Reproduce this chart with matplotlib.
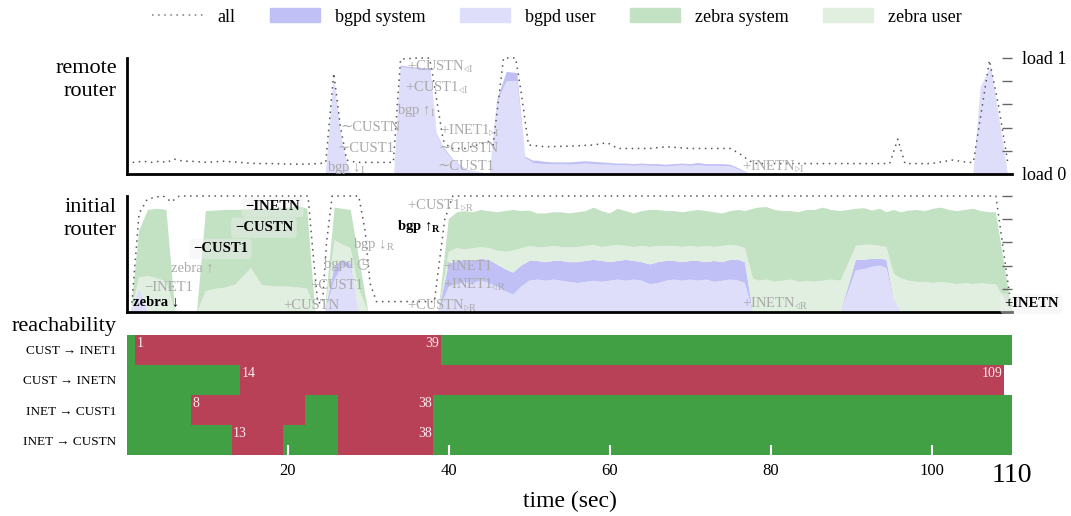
import numpy as np
import matplotlib
matplotlib.use("Agg")
import matplotlib.pyplot as plt
from matplotlib.patches import Patch
from matplotlib.lines import Line2D

plt.rcParams['font.family'] = ['Liberation Serif', 'DejaVu Serif', 'DejaVu Sans']
plt.rcParams['mathtext.fontset'] = 'custom'
plt.rcParams['mathtext.rm'] = 'Liberation Serif'
plt.rcParams['mathtext.bf'] = 'Liberation Serif:bold'
plt.rcParams['mathtext.it'] = 'Liberation Serif:italic'

# ---- remote router: cpu load (fraction of one core) ----
rem_t = [1, 24.7, 25.7, 26.7, 27.7, 33.2, 34.0, 35.5, 37.7, 38.5, 39.3, 40.6, 42.2, 45.1,
         46.0, 47.2, 48.5, 49.5, 50.5, 51, 52, 53, 54, 55, 56, 57, 58, 59, 60, 61, 62, 63,
         64, 65, 66, 67, 68, 69, 70, 71, 72, 73, 74, 75, 76, 77.5, 105.2, 106.1, 107.4,
         109.5, 110]
rem_bgpd_user = [0, 0, 0.80, 0.30, 0, 0, 0.92, 0.91, 0.89, 0.34, 0.22, 0.11, 0.03, 0,
                 0.62, 0.80, 0.80, 0.14, 0.095, 0.09, 0.085, 0.085, 0.085, 0.08, 0.085, 0.09,
                 0.085, 0.08, 0.08, 0.075, 0.075, 0.07, 0.075, 0.07, 0.07, 0.065, 0.07, 0.075,
                 0.07, 0.075, 0.07, 0.07, 0.07, 0.065, 0.04, 0, 0, 0.75, 0.93, 0, 0]
rem_bgpd_sys = [0, 0, 0.02, 0, 0, 0, 0.015, 0.01, 0.02, 0.01, 0.015, 0.01, 0.005, 0,
                0.02, 0.08, 0.07, 0.01, 0.02, 0.025, 0.02, 0.015, 0.015, 0.02, 0.02, 0.02,
                0.02, 0.02, 0.015, 0.015, 0.015, 0.015, 0.015, 0.015, 0.015, 0.015, 0.015,
                0.015, 0.015, 0.02, 0.015, 0.015, 0.015, 0.015, 0.01, 0, 0, 0, 0, 0, 0]
rem_all_t = [0.7, 2, 3, 4, 5, 5.8, 7, 8, 10, 12, 14, 16, 18, 20, 22, 24, 24.7, 25.7, 26.5,
             27.3, 28.5, 30, 32, 33.1, 34.0, 36, 37.6, 38.0, 39.3, 40.2, 42, 43.5, 45, 45.5,
             46.8, 48.3, 49.0, 49.9, 52, 55, 58, 59.7, 61, 65, 67, 70, 75, 76.5, 77.2, 78, 85,
             90, 94.8, 95.8, 96.7, 100, 102.6, 104.5, 105.2, 107.2, 108.3, 109.5]
rem_all = [0.10, 0.11, 0.10, 0.11, 0.10, 0.13, 0.11, 0.11, 0.10, 0.11, 0.10, 0.09, 0.09,
           0.085, 0.085, 0.09, 0.10, 0.87, 0.42, 0.12, 0.10, 0.10, 0.10, 0.10, 0.99, 1.0,
           1.0, 0.85, 0.29, 0.22, 0.22, 0.25, 0.28, 0.25, 1.0, 1.0, 0.70, 0.25, 0.235,
           0.24, 0.25, 0.27, 0.22, 0.22, 0.235, 0.22, 0.22, 0.16, 0.12, 0.09, 0.09, 0.09,
           0.09, 0.30, 0.09, 0.09, 0.12, 0.10, 0.10, 0.98, 0.60, 0.09]

# ---- initial router: cumulative tops of the stacked layers ----
ini_t = [0.5, 1.5, 2.6, 3.8, 4.9, 6.0, 8.7, 9.8, 11, 12.2, 13.5, 15.4, 16.8, 18.5, 20,
         21.5, 22.4, 23.4, 24.6, 25.8, 26.8, 27.8, 28.8, 30, 38.7, 40.0,
         41, 42, 43, 44, 45, 46, 47, 48, 49, 50, 51, 52, 53, 54, 55, 56, 57, 58, 59, 60,
         61, 62, 63, 64, 65, 66, 67, 68, 69, 70, 71, 72, 73, 74, 75, 76, 76.8, 77.8, 78.5,
         79.5, 80.5, 81.5, 82.5, 83.5, 84.5, 85.5, 86.5, 87.5, 88.7, 90.6, 91.6, 92.6, 93.6,
         94.4, 95.3, 96.2, 97.2, 98.2, 99.2, 100.2, 101.2, 102.2, 103.2, 104.2, 105.2,
         106.2, 107.2, 108.0, 110]
ini_top_bgpd_user = [0, 0.19, 0, 0, 0, 0, 0, 0, 0, 0, 0, 0, 0, 0, 0, 0, 0, 0, 0, 0.28, 0.40,
                     0.38, 0, 0, 0, 0.22,
                     0.24, 0.26, 0.25, 0.27, 0.25, 0.22, 0.18, 0.15, 0.22, 0.27, 0.28, 0.27,
                     0.28, 0.27, 0.26, 0.25, 0.26, 0.27, 0.26, 0.27, 0.28, 0.27, 0.28, 0.27,
                     0.24, 0.25, 0.27, 0.28, 0.27, 0.28, 0.27, 0.28, 0.26, 0.27, 0.28, 0.27,
                     0.25, 0, 0, 0, 0, 0, 0, 0, 0, 0, 0, 0, 0, 0.36, 0.37, 0.39, 0.40, 0.38,
                     0.10, 0, 0, 0, 0, 0, 0, 0, 0, 0, 0, 0, 0, 0, 0]
ini_top_bgpd_sys = [0, 0.20, 0, 0, 0, 0, 0, 0, 0, 0, 0, 0, 0, 0, 0, 0, 0, 0, 0, 0.40, 0.45,
                    0.42, 0, 0, 0, 0.42,
                    0.44, 0.45, 0.44, 0.46, 0.45, 0.41, 0.37, 0.34, 0.40, 0.44, 0.44, 0.43,
                    0.44, 0.44, 0.43, 0.43, 0.44, 0.45, 0.44, 0.43, 0.44, 0.45, 0.44, 0.43,
                    0.41, 0.43, 0.44, 0.44, 0.43, 0.44, 0.44, 0.43, 0.44, 0.43, 0.45, 0.45,
                    0.43, 0, 0, 0, 0, 0, 0, 0, 0, 0, 0, 0, 0, 0.45, 0.45, 0.46, 0.46, 0.45,
                    0.11, 0, 0, 0, 0, 0, 0, 0, 0, 0, 0, 0, 0, 0, 0]
ini_top_zebra_user = [0, 0.30, 0.31, 0.29, 0.26, 0, 0, 0.18, 0.20, 0.21, 0.24, 0.38, 0.23,
                      0.22, 0.22, 0.21, 0.20, 0, 0, 0.62, 0.58, 0.55, 0.20, 0, 0, 0.52,
                      0.55, 0.54, 0.55, 0.56, 0.55, 0.53, 0.52, 0.53, 0.55, 0.57, 0.56, 0.56,
                      0.57, 0.56, 0.56, 0.56, 0.57, 0.58, 0.56, 0.57, 0.58, 0.57, 0.56, 0.57,
                      0.56, 0.57, 0.57, 0.57, 0.56, 0.57, 0.56, 0.57, 0.56, 0.57, 0.58, 0.57,
                      0.55, 0.29, 0.27, 0.28, 0.26, 0.27, 0.28, 0.26, 0.27, 0.26, 0.27, 0.28,
                      0.27, 0.57, 0.58, 0.58, 0.57, 0.56, 0.33, 0.29, 0.27, 0.26, 0.26, 0.25,
                      0.26, 0.25, 0.24, 0.25, 0.24, 0.25, 0.24, 0.24, 0]
ini_top_zebra_sys = [0, 0.70, 0.88, 0.89, 0.88, 0, 0, 0.87, 0.875, 0.88, 0.88, 0.885, 0.89,
                     0.90, 0.90, 0.91, 0.89, 0, 0, 0.90, 0.89, 0.88, 0.48, 0, 0, 0.80,
                     0.86, 0.87, 0.86, 0.88, 0.87, 0.86, 0.87, 0.88, 0.87, 0.875, 0.85, 0.85,
                     0.86, 0.86, 0.85, 0.86, 0.87, 0.90, 0.87, 0.85, 0.89, 0.87, 0.85, 0.87,
                     0.88, 0.88, 0.87, 0.87, 0.86, 0.87, 0.88, 0.87, 0.86, 0.85, 0.87, 0.88,
                     0.87, 0.89, 0.90, 0.905, 0.88, 0.87, 0.87, 0.86, 0.88, 0.88, 0.90, 0.88,
                     0.87, 0.89, 0.895, 0.875, 0.89, 0.86, 0.88, 0.86, 0.875, 0.88, 0.87,
                     0.89, 0.90, 0.88, 0.87, 0.88, 0.89, 0.87, 0.86, 0.86, 0]
ini_all_t = [0.6, 1.5, 2.5, 3.5, 4.5, 5.5, 6.5, 22.5, 23.0, 23.7, 24.3, 24.8, 25.5, 28.8,
             29.6, 30.2, 31.0, 38.2, 39.5, 40.5, 108, 110]
ini_all = [0.08, 0.85, 0.97, 0.99, 1.0, 0.95, 1.0, 1.0, 0.6, 0.08, 0.08, 0.6, 1.0, 1.0,
           0.7, 0.25, 0.09, 0.09, 0.8, 1.0, 1.0, 0.0]

# ---- reachability ----
reach_rows = ['CUST → INET1', 'CUST → INETN', 'INET → CUST1', 'INET → CUSTN']
reach_up = [[(0, 1), (39, 110)],
            [(0, 14)],
            [(0, 8), (22.1, 26.2), (38, 110)],
            [(0, 13), (19.4, 26.2), (38, 110)]]
reach_down = [[(1, 39)],
              [(14, 109)],
              [(8, 22.1), (26.2, 38)],
              [(13, 19.4), (26.2, 38)]]

legend_labels = ['all', 'bgpd system', 'bgpd user', 'zebra system', 'zebra user']

c_bs, c_bu, c_zs, c_zu = '#c0c0f6', '#dedefb', '#c3e1c3', '#e0efe0'
c_up, c_down = '#41a043', '#b94157'
gray = '#a9a9a9'


def layers_from_tops(*tops):
    tops = [np.asarray(tp) for tp in tops]
    out = [tops[0]]
    for lo, hi in zip(tops[:-1], tops[1:]):
        out.append(np.clip(hi - lo, 0, None))
    return out


def load_panel(ax, t, layers, colors, t_all, v_all, ticklabels):
    ax.stackplot(t, *layers, colors=colors, linewidth=0)
    ax.plot(t_all, v_all, ls=(0, (1, 3)), color='#555555', lw=1.1, clip_on=False)
    ax.set_xlim(0, 110)
    ax.set_ylim(0, 1)
    for s in ['top', 'right']:
        ax.spines[s].set_visible(False)
    for s in ['left', 'bottom']:
        ax.spines[s].set_linewidth(2)
    ax.set_xticks([])
    ax.yaxis.tick_right()
    ax.set_yticks(np.linspace(0, 1, 6))
    ax.set_yticklabels(ticklabels)
    ax.tick_params(axis='y', direction='in', length=7, width=1, color='#666666',
                   pad=7, labelsize=13)


def note(ax, x, y, s, bold=False, box=False):
    kw = dict(ha='left', va='center', fontsize=10.5, clip_on=False)
    if bold:
        kw.update(color='black', fontweight='bold')
    else:
        kw.update(color=gray)
    if box:
        kw['bbox'] = dict(boxstyle='round,pad=0.25', fc='#f0f0f0', ec='none', alpha=0.45)
    ax.text(x, y, s, **kw)


fig = plt.figure(figsize=(10.71, 5.16), dpi=100)
L, W = 0.1186, 0.8263
ax1 = fig.add_axes([L, 0.6628, W, 0.2248])
ax2 = fig.add_axes([L, 0.3953, W, 0.2248])
ax3 = fig.add_axes([L, 0.1182, W, 0.2326])

# remote router
load_panel(ax1, rem_t, [rem_bgpd_user, rem_bgpd_sys], [c_bu, c_bs], rem_all_t, rem_all,
           ['load 0', '', '', '', '', 'load 1'])
note(ax1, 24.9, 0.06, r'bgp ↓$_{\mathrm{I}}$')
note(ax1, 26.2, 0.224, '∼CUST1')
note(ax1, 26.5, 0.40, '∼CUSTN')
note(ax1, 34.8, 0.925, r'+CUSTN$_{\triangleleft\mathrm{I}}$')
note(ax1, 34.6, 0.74, r'+CUST1$_{\triangleleft\mathrm{I}}$')
note(ax1, 33.6, 0.55, r'bgp ↑$_{\mathrm{I}}$')
note(ax1, 38.9, 0.38, r'+INET1$_{\triangleright\mathrm{I}}$')
note(ax1, 38.7, 0.224, '∼CUSTN')
note(ax1, 38.6, 0.063, '∼CUST1')
note(ax1, 76.5, 0.07, r'+INETN$_{\triangleright\mathrm{I}}$')

# initial router
ini_layers = layers_from_tops(ini_top_bgpd_user, ini_top_bgpd_sys, ini_top_zebra_user,
                              ini_top_zebra_sys)
load_panel(ax2, ini_t, ini_layers, [c_bu, c_bs, c_zu, c_zs], ini_all_t, ini_all,
           ['', '', '', '', '', ''])
note(ax2, 0.75, 0.087, 'zebra ↓', bold=True)
note(ax2, 2.2, 0.21, '−INET1')
note(ax2, 5.5, 0.38, 'zebra ↑')
note(ax2, 8.2, 0.545, '−CUST1', bold=True, box=True)
note(ax2, 13.4, 0.727, '−CUSTN', bold=True, box=True)
note(ax2, 14.7, 0.906, '−INETN', bold=True, box=True)
note(ax2, 19.4, 0.06, '+CUSTN')
note(ax2, 22.8, 0.23, '+CUST1')
note(ax2, 24.5, 0.41, 'bgpd ◷')
note(ax2, 28.1, 0.58, r'bgp ↓$_{\mathrm{R}}$')
note(ax2, 34.8, 0.92, r'+CUST1$_{\triangleright\mathrm{R}}$')
note(ax2, 33.5, 0.74, r'bgp ↑$_{\mathbf{R}}$', bold=True)
note(ax2, 39.3, 0.39, '+INET1')
note(ax2, 39.3, 0.233, r'+INET1$_{\triangleleft\mathrm{R}}$')
note(ax2, 34.8, 0.06, r'+CUSTN$_{\triangleright\mathrm{R}}$')
note(ax2, 76.5, 0.07, r'+INETN$_{\triangleleft\mathrm{R}}$')
note(ax2, 109.0, 0.07, '+INETN', bold=True, box=True)

# reachability
for i in range(len(reach_rows)):
    for a, b in reach_up[i]:
        ax3.barh(i, b - a, left=a, height=1.0, color=c_up, linewidth=0)
    for a, b in reach_down[i]:
        ax3.barh(i, b - a, left=a, height=1.0, color=c_down, linewidth=0)
    lost = reach_down[i][0][0]
    back = reach_down[i][-1][1]
    ax3.text(lost + 0.2, i - 0.42, f'{lost:g}', color='#f6ecee', fontsize=10,
             ha='left', va='top')
    ax3.text(back - 0.15, i - 0.42, f'{back:g}', color='#f6ecee', fontsize=10,
             ha='right', va='top')
ax3.set_xlim(0, 110)
ax3.set_ylim(len(reach_rows) - 0.5, -0.5)
for s in ax3.spines.values():
    s.set_visible(False)
ax3.set_yticks(range(len(reach_rows)))
ax3.set_yticklabels(reach_rows, fontsize=9.5)
ax3.tick_params(axis='y', length=0, pad=8)
ax3.set_xticks([20, 40, 60, 80, 100, 110])
ax3.tick_params(axis='x', direction='in', color='white', length=7, width=1.5, pad=6,
                labelsize=12)
xt = ax3.xaxis.get_major_ticks()
xt[-1].tick1line.set_visible(False)
xt[-1].label1.set_fontsize(20)
ax3.set_xlabel('time (sec)', fontsize=17, labelpad=2)

# panel titles
fig.text(0.1092, 0.845, 'remote\nrouter', ha='right', va='center', fontsize=16,
         multialignment='right', linespacing=1.3)
fig.text(0.1092, 0.5756, 'initial\nrouter', ha='right', va='center', fontsize=16,
         multialignment='right', linespacing=1.3)
fig.text(0.1092, 0.368, 'reachability', ha='right', va='center', fontsize=16)

handles = [Line2D([], [], ls=(0, (1, 3)), color='#777777', lw=1.1),
           Patch(color=c_bs), Patch(color=c_bu), Patch(color=c_zs), Patch(color=c_zu)]
fig.legend(handles, legend_labels, loc='center', bbox_to_anchor=(0.52, 0.967), ncol=5,
           frameon=False, fontsize=13, handlelength=2.8, handleheight=0.8,
           handletextpad=0.8, columnspacing=1.9)

fig.savefig('out.png', dpi=100)
